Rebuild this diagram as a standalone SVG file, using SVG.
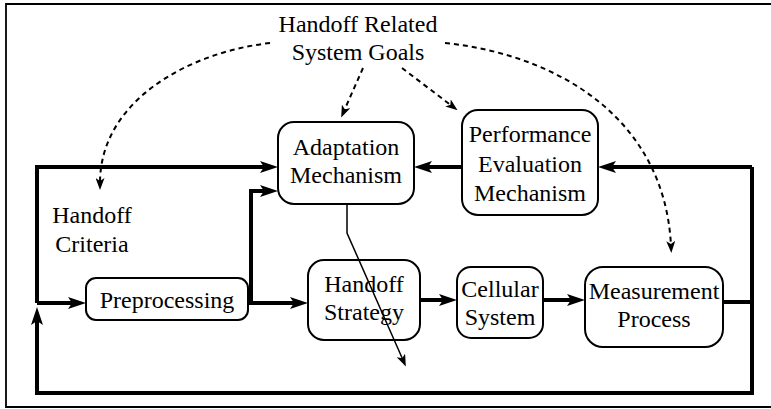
<svg xmlns="http://www.w3.org/2000/svg" width="771" height="409" viewBox="0 0 771 409">
  <style>
    .frame { fill: none; stroke: #000; stroke-width: 1.8; }
    .box { fill: #fff; stroke: #000; stroke-width: 2; }
    .lbl { font-family: "Liberation Serif", "DejaVu Serif", "Times New Roman", serif; font-size: 24px; fill: #000; text-anchor: middle; }
    .flow { fill: none; stroke: #000; stroke-width: 4; stroke-linejoin: miter; }
    .goal { fill: none; stroke: #000; stroke-width: 2; stroke-dasharray: 5 4; }
    .thin { fill: none; stroke: #000; stroke-width: 1.5; }
  </style>
  <defs>
    <marker id="big" markerUnits="userSpaceOnUse" viewBox="0 0 18 12" refX="8" refY="6" markerWidth="18" markerHeight="12" orient="auto">
      <path d="M0,0 L18,6 L0,12 L4,6 z" fill="#000"/>
    </marker>
    <marker id="small" markerUnits="userSpaceOnUse" viewBox="0 0 12 9" refX="5" refY="4.5" markerWidth="12" markerHeight="9" orient="auto">
      <path d="M0,0 L12,4.5 L0,9 L3,4.5 z" fill="#000"/>
    </marker>
  </defs>

  <!-- outer frame -->
  <path class="frame" d="M775,4 H6 V407 H775"/>

  <!-- connectors -->
  <g id="connectors">
    <!-- main feedback loop -->
    <path class="flow" d="M37,303 V167 H268" marker-end="url(#big)"/>
    <path class="flow" d="M752,167 V393 H37 V317" marker-end="url(#big)"/>
    <path class="flow" d="M37,303 H76" marker-end="url(#big)"/>
    <path class="flow" d="M248,303 H298" marker-end="url(#big)"/>
    <path class="flow" d="M251,303 V191 H268" marker-end="url(#big)"/>
    <path class="flow" d="M420,300 H447" marker-end="url(#big)"/>
    <path class="flow" d="M543,300 H575" marker-end="url(#big)"/>
    <path class="flow" d="M723,302 H752"/>
    <path class="flow" d="M752,167 H608" marker-end="url(#big)"/>
    <path class="flow" d="M462,167 H424" marker-end="url(#big)"/>
    <!-- system goals -->
    <path class="goal" d="M270,43 C190,52 100,100 100,183" marker-end="url(#small)"/>
    <path class="goal" d="M363,68 L344,111" marker-end="url(#small)"/>
    <path class="goal" d="M402,68 L452,106" marker-end="url(#small)"/>
    <path class="goal" d="M445,43 C560,55 665,120 671,246" marker-end="url(#small)"/>
  </g>

  <g id="goals">
    <text class="lbl" x="358" y="32">Handoff Related</text>
    <text class="lbl" x="358" y="60">System Goals</text>
  </g>

  <g id="criteria">
    <text class="lbl" x="92" y="223">Handoff</text>
    <text class="lbl" x="92" y="252">Criteria</text>
  </g>

  <g id="adaptation">
    <rect class="box" x="278" y="122" width="136" height="82" rx="16"/>
    <text class="lbl" x="346" y="155">Adaptation</text>
    <text class="lbl" x="346" y="183">Mechanism</text>
  </g>

  <g id="performance">
    <rect class="box" x="462" y="110" width="136" height="105" rx="16"/>
    <text class="lbl" x="530" y="142">Performance</text>
    <text class="lbl" x="530" y="172">Evaluation</text>
    <text class="lbl" x="530" y="201">Mechanism</text>
  </g>

  <g id="preprocessing">
    <rect class="box" x="86" y="278" width="162" height="42" rx="10"/>
    <text class="lbl" x="167" y="308">Preprocessing</text>
  </g>

  <g id="strategy">
    <rect class="box" x="308" y="260" width="112" height="80" rx="16"/>
    <text class="lbl" x="364" y="292">Handoff</text>
    <text class="lbl" x="364" y="320">Strategy</text>
  </g>

  <g id="cellular">
    <rect class="box" x="457" y="267" width="86" height="71" rx="14"/>
    <text class="lbl" x="500" y="297">Cellular</text>
    <text class="lbl" x="500" y="325">System</text>
  </g>

  <g id="measurement">
    <rect class="box" x="585" y="267" width="138" height="80" rx="18"/>
    <text class="lbl" x="654" y="299">Measurement</text>
    <text class="lbl" x="654" y="327">Process</text>
  </g>

  <!-- adaptation output, drawn across the strategy block -->
  <path class="thin" d="M347,204 V233 L403,360" marker-end="url(#small)"/>
</svg>
